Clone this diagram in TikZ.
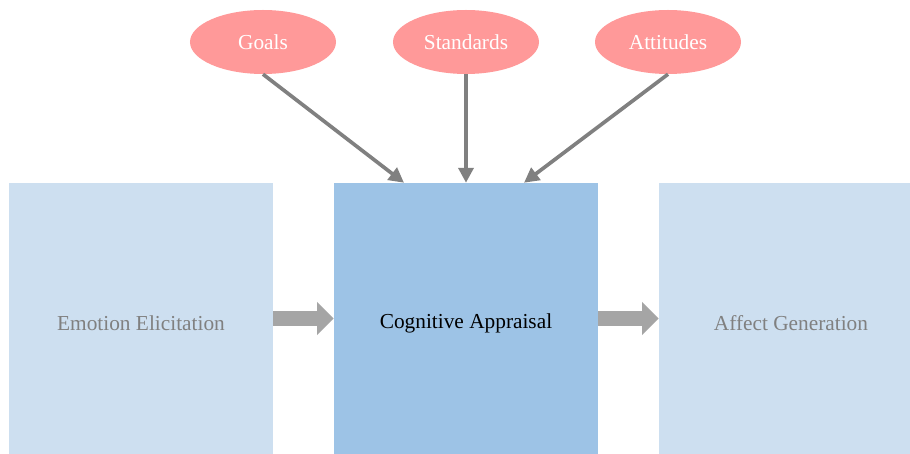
\documentclass[tikz,border=0pt]{standalone}
\usepackage{fontspec}
\setmainfont{Liberation Serif}
\usetikzlibrary{arrows.meta,shapes.geometric,positioning}

\definecolor{boxpale}{HTML}{CDDFF0}
\definecolor{boxmid}{HTML}{9DC3E6}
\definecolor{ovalpink}{HTML}{FF9999}
\definecolor{flowgray}{HTML}{A5A5A5}
\definecolor{linkgray}{HTML}{808080}

\newcommand\stagetext[1]{\raisebox{-0.15cm}[\height][\depth]{#1}}

\tikzset{
  stage/.style={rectangle,fill=boxpale,text=linkgray,minimum width=7.92cm,
    minimum height=8.13cm,font=\fontsize{18.2}{21}\selectfont},
  factor/.style={ellipse,fill=ovalpink,text=white,minimum width=4.38cm,
    minimum height=1.92cm,inner sep=0pt,font=\fontsize{18.2}{21}\selectfont},
  flow/.style={flowgray,line width=0.45cm,-{Triangle[length=0.5cm,width=0.96cm]}},
  link/.style={linkgray,line width=0.11cm,-{Triangle[length=0.45cm,width=0.45cm]}}
}

\begin{document}
\begin{tikzpicture}[x=0.03cm,y=-0.03cm]
   \clip (0,0) rectangle (910,454);
   \fill [white] (0,0) rectangle (910,454);
   % stages
   \node [stage] (elicit) at (141,318.5) {\stagetext{Emotion Elicitation}};
   \node [stage,fill=boxmid,text=black] (appraisal) at (466,318.5) {\stagetext{Cognitive Appraisal}};
   \node [stage] (generation) at (791,318.5) {\stagetext{Affect Generation}};
   % appraisal factors
   \node [factor] (goals) at (263,42) {Goals};
   \node [factor] (standards) at (466,42) {Standards};
   \node [factor] (attitudes) at (668,42) {Attitudes};
   \coordinate [left=1.86cm of appraisal.north] (goalsin);
   \coordinate [right=1.74cm of appraisal.north] (attitudesin);
   \draw [link] (goals.south) -- (goalsin);
   \draw [link] (standards.south) -- (appraisal.north);
   \draw [link] (attitudes.south) -- (attitudesin);
   \draw [flow] (elicit) -- (appraisal);
   \draw [flow] (appraisal) -- (generation);
\end{tikzpicture}
\end{document}
